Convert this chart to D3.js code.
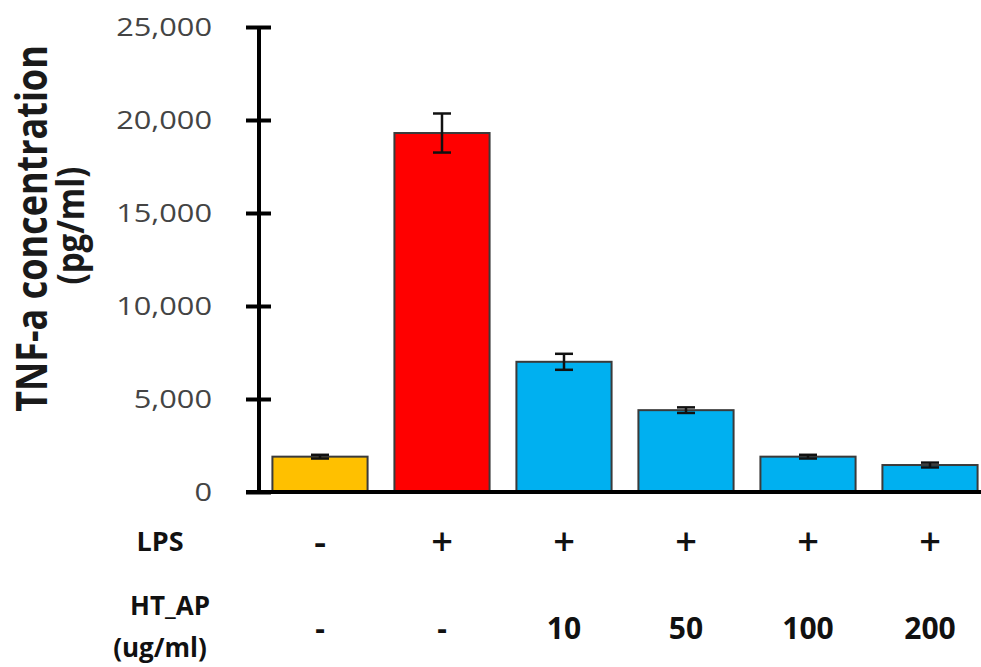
<!DOCTYPE html>
<html>
<head>
<meta charset="utf-8">
<script src="https://cdn.jsdelivr.net/npm/d3@7"></script>
<style>
  html, body { margin: 0; padding: 0; background: #fff; }
  svg { display: block; }
</style>
</head>
<body>
<div id="chart"></div>
<script>
// data
var groups = ["ctrl", "lps", "ht10", "ht50", "ht100", "ht200"];
var values = [1900, 19300, 7000, 4400, 1900, 1450];
var errors = [100, 1050, 430, 150, 100, 130];
var barColors = ["#FFC000", "#FF0000", "#00B0F0", "#00B0F0", "#00B0F0", "#00B0F0"];
var lpsLabels = ["-", "+", "+", "+", "+", "+"];
var htapLabels = ["-", "-", "10", "50", "100", "200"];
var yTicks = [0, 5000, 10000, 15000, 20000, 25000];

var width = 981;
var height = 667;

var svg = d3.select("#chart")
    .append("svg")
    .attr("width", width)
    .attr("height", height);

var y = d3.scaleLinear().domain([0, 25000]).range([492, 27]);
var x = d3.scaleBand()
    .domain(groups)
    .range([259, 991])
    .paddingInner(0.22)
    .paddingOuter(0.11);

var font = "'Open Sans', 'DejaVu Sans', sans-serif";

// bars
svg.selectAll(".bar")
    .data(values)
    .enter()
    .append("rect")
    .attr("class", "bar")
    .attr("x", function (d, i) { return x(groups[i]); })
    .attr("y", function (d) { return y(d); })
    .attr("width", x.bandwidth())
    .attr("height", function (d) { return y(0) - y(d); })
    .attr("fill", function (d, i) { return barColors[i]; })
    .attr("stroke", "#3a3a3a")
    .attr("stroke-width", 2);

// error bars
var capW = 18;
var err = svg.selectAll(".err")
    .data(values)
    .enter()
    .append("g")
    .attr("class", "err")
    .attr("transform", function (d, i) { return "translate(" + (x(groups[i]) + x.bandwidth() / 2) + ",0)"; })
    .attr("stroke", "#111")
    .attr("stroke-width", 2.5);
err.append("line")
    .attr("y1", function (d, i) { return y(d + errors[i]); })
    .attr("y2", function (d, i) { return y(d - errors[i]); });
err.append("line")
    .attr("x1", -capW / 2).attr("x2", capW / 2)
    .attr("y1", function (d, i) { return y(d + errors[i]); })
    .attr("y2", function (d, i) { return y(d + errors[i]); });
err.append("line")
    .attr("x1", -capW / 2).attr("x2", capW / 2)
    .attr("y1", function (d, i) { return y(d - errors[i]); })
    .attr("y2", function (d, i) { return y(d - errors[i]); });

// y axis
var yAxis = svg.append("g")
    .attr("transform", "translate(259,0)")
    .call(d3.axisLeft(y).tickValues(yTicks).tickFormat(d3.format(",")).tickSize(13));
yAxis.select(".domain").remove();
yAxis.append("line")
    .attr("y1", y(25000)).attr("y2", y(0))
    .attr("stroke", "#000").attr("stroke-width", 4);
yAxis.selectAll(".tick line")
    .attr("x1", -13).attr("x2", 12)
    .attr("stroke", "#000").attr("stroke-width", 4);
yAxis.selectAll(".tick text")
    .attr("x", 0)
    .attr("dy", "0.35em")
    .attr("transform", "translate(-47,0) scale(1.23,1)")
    .style("font-family", font)
    .style("font-size", "25px")
    .style("fill", "#444");

// x axis baseline
svg.append("line")
    .attr("x1", 246).attr("x2", width)
    .attr("y1", y(0)).attr("y2", y(0))
    .attr("stroke", "#000").attr("stroke-width", 4);

// y title
var midY = (y(25000) + y(0)) / 2;
svg.append("text")
    .attr("transform", "translate(47," + (midY - 31) + ") scale(1.2,1) rotate(-90)")
    .attr("text-anchor", "middle")
    .style("font-family", font)
    .style("font-weight", "bold")
    .style("font-size", "36px")
    .style("fill", "#1a1a1a")
    .text("TNF-a concentration");
svg.append("text")
    .attr("transform", "translate(84," + (midY - 34) + ") scale(1.15,1) rotate(-90)")
    .attr("text-anchor", "middle")
    .style("font-family", font)
    .style("font-weight", "bold")
    .style("font-size", "33px")
    .style("fill", "#1a1a1a")
    .text("(pg/ml)");

// treatment rows under the axis
var rowFont = function (sel, size, weight) {
    sel.style("font-family", font)
        .style("font-weight", weight || "bold")
        .style("font-size", size)
        .style("fill", "#111")
        .attr("text-anchor", "middle")
        .attr("dy", "0.35em");
};

svg.append("text").attr("x", 160).attr("y", 542).call(rowFont, "27px").text("LPS");
svg.append("text").attr("x", 170).attr("y", 606).call(rowFont, "26px").text("HT_AP");
svg.append("text").attr("x", 160).attr("y", 648).call(rowFont, "26px").text("(ug/ml)");

svg.selectAll(".lps")
    .data(lpsLabels)
    .enter()
    .append("text")
    .attr("class", "lps")
    .attr("x", function (d, i) { return x(groups[i]) + x.bandwidth() / 2; })
    .attr("y", 542)
    .call(rowFont, "38px", "600")
    .text(function (d) { return d; });

svg.selectAll(".htap")
    .data(htapLabels)
    .enter()
    .append("text")
    .attr("class", "htap")
    .attr("x", function (d, i) { return x(groups[i]) + x.bandwidth() / 2; })
    .attr("y", 628)
    .call(rowFont, "30px")
    .text(function (d) { return d; });
</script>
</body>
</html>
